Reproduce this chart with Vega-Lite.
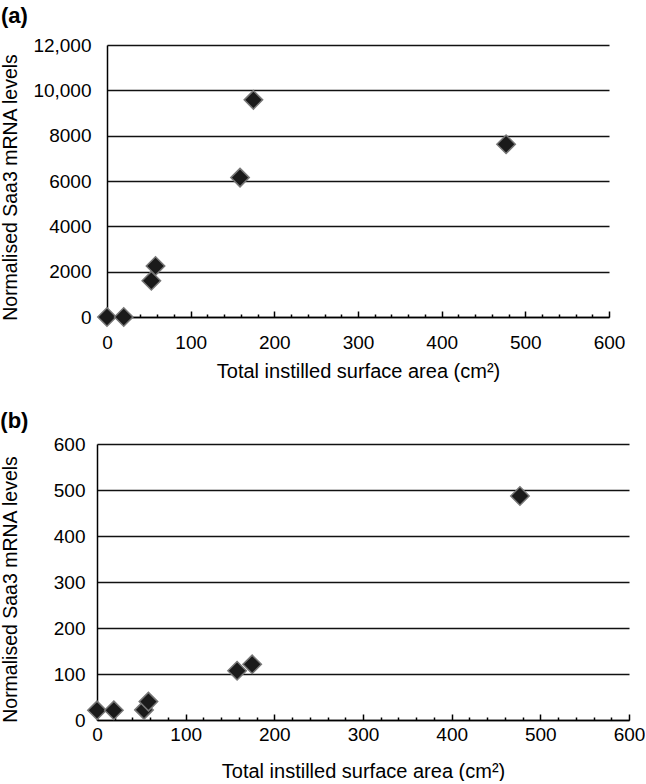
{
  "$schema": "https://vega.github.io/schema/vega-lite/v6.json",
  "background": "white",
  "padding": {"left": 0, "top": 5, "right": 0, "bottom": 0},
  "columns": 1,
  "spacing": 29,
  "config": {
    "view": {"stroke": null},
    "font": "Liberation Sans",
    "axis": {
      "labelColor": "#000",
      "titleColor": "#000",
      "labelFontSize": 19,
      "titleFontSize": 19.5,
      "titleFontWeight": "normal",
      "domainColor": "#000",
      "domainWidth": 1.5,
      "tickColor": "#000",
      "tickWidth": 1.5,
      "labelFlush": false,
      "labelOverlap": false
    },
    "title": {"fontSize": 22, "fontWeight": "bold", "color": "#000", "anchor": "start", "frame": "bounds"}
  },
  "datasets": {
    "a": [
      {"area": 0, "saa3": 0},
      {"area": 20, "saa3": 0},
      {"area": 53, "saa3": 1600},
      {"area": 58, "saa3": 2250},
      {"area": 159, "saa3": 6150},
      {"area": 175, "saa3": 9580},
      {"area": 477, "saa3": 7620}
    ],
    "b": [
      {"area": 0, "saa3": 21},
      {"area": 19, "saa3": 21},
      {"area": 53, "saa3": 22},
      {"area": 58, "saa3": 40},
      {"area": 158, "saa3": 107},
      {"area": 175, "saa3": 121},
      {"area": 477, "saa3": 487}
    ]
  },
  "concat": [
    {
      "title": {"text": "(a)", "offset": 8},
      "width": 512,
      "height": 272,
      "data": {"name": "a"},
      "mark": {"type": "point", "shape": "diamond", "filled": true, "size": 340, "fill": "#1a1a1a", "stroke": "#777777", "strokeWidth": 1.5, "opacity": 1},
      "encoding": {
        "x": {
          "field": "area", "type": "quantitative",
          "scale": {"domain": [0, 600], "range": [10, 512], "nice": false, "zero": true},
          "axis": {
            "values": [0,20,40,60,80,100,120,140,160,180,200,220,240,260,280,300,320,340,360,380,400,420,440,460,480,500,520,540,560,580,600],
            "labelExpr": "datum.value % 100 === 0 ? datum.label : ''",
            "tickSize": {"condition": {"test": "datum.value % 100 === 0", "value": -6}, "value": -3},
            "grid": false,
            "labelPadding": 22,
            "title": "Total instilled surface area (cm²)",
            "titleFontSize": 20,
            "titlePadding": 6
          }
        },
        "y": {
          "field": "saa3", "type": "quantitative",
          "scale": {"domain": [0, 12000], "nice": false},
          "axis": {
            "values": [0, 2000, 4000, 6000, 8000, 10000, 12000],
            "labelExpr": "datum.value >= 10000 ? format(datum.value, ',') : format(datum.value, 'd')",
            "offset": -10,
            "grid": true, "gridColor": "#111", "gridWidth": 1.5,
            "ticks": false, "tickSize": 0,
            "labelPadding": 16,
            "title": "Normalised Saa3 mRNA levels",
            "titlePadding": 12,
            "titleY": 142
          }
        }
      }
    },
    {
      "title": {"text": "(b)", "offset": 2},
      "width": 532,
      "height": 276,
      "data": {"name": "b"},
      "mark": {"type": "point", "shape": "diamond", "filled": true, "size": 340, "fill": "#1a1a1a", "stroke": "#777777", "strokeWidth": 1.5, "opacity": 1},
      "encoding": {
        "x": {
          "field": "area", "type": "quantitative",
          "scale": {"domain": [0, 600], "nice": false, "zero": true},
          "axis": {
            "values": [0,20,40,60,80,100,120,140,160,180,200,220,240,260,280,300,320,340,360,380,400,420,440,460,480,500,520,540,560,580,600],
            "labelExpr": "datum.value % 100 === 0 ? datum.label : ''",
            "tickSize": {"condition": {"test": "datum.value % 100 === 0", "value": -6}, "value": -3},
            "grid": false,
            "labelPadding": 11,
            "title": "Total instilled surface area (cm²)",
            "titleFontSize": 20,
            "titlePadding": 14
          }
        },
        "y": {
          "field": "saa3", "type": "quantitative",
          "scale": {"domain": [0, 600], "nice": false},
          "axis": {
            "values": [0, 100, 200, 300, 400, 500, 600],
            "grid": true, "gridColor": "#111", "gridWidth": 1.5,
            "ticks": false, "tickSize": 0,
            "labelPadding": 12,
            "title": "Normalised Saa3 mRNA levels",
            "titlePadding": 33,
            "titleY": 145
          }
        }
      }
    }
  ]
}
